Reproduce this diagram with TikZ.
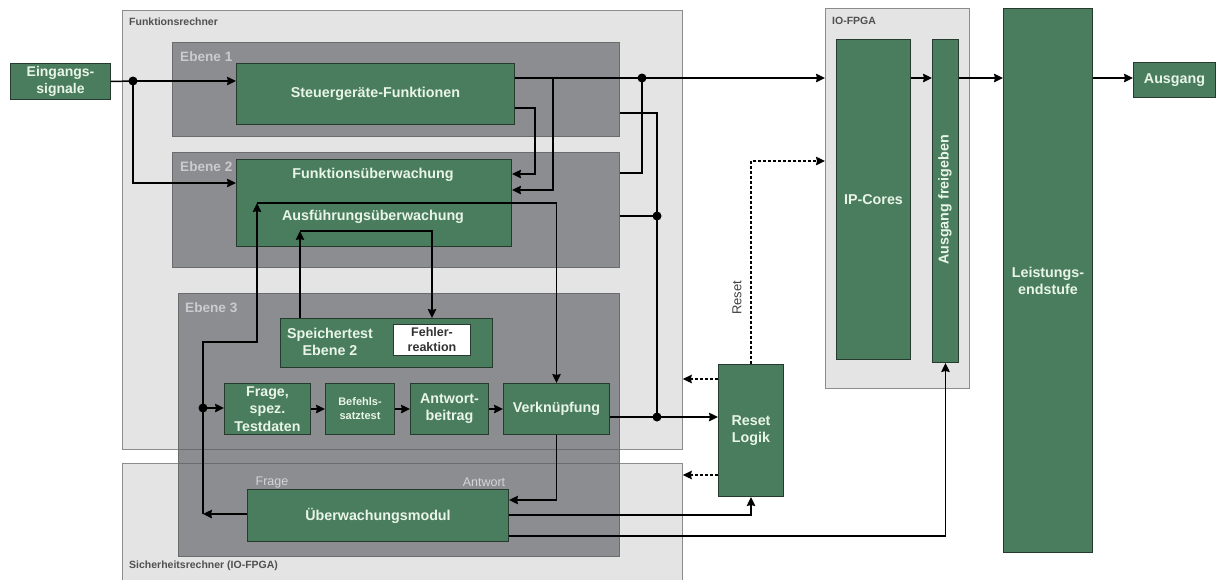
\documentclass[tikz,border=0pt]{standalone}
\usepackage{fontspec}
\setmainfont{Liberation Sans}
\usetikzlibrary{arrows.meta,calc}
\definecolor{bgl}{HTML}{E4E4E4}
\definecolor{bgb}{HTML}{8C8C8C}
\definecolor{eb}{HTML}{8B8D90}
\definecolor{ebb}{HTML}{6A6C6E}
\definecolor{ebt}{HTML}{C9CBCD}
\definecolor{gr}{HTML}{4A7D5E}
\definecolor{grb}{HTML}{263A2E}
\definecolor{grt}{HTML}{E8F5E8}
\definecolor{lbl}{HTML}{505050}
\begin{document}
\begin{tikzpicture}[x=1pt,y=-1pt,
  outerbox/.style={fill=bgl,draw=bgb,line width=0.8pt,anchor=north west,inner sep=0pt},
  ebenebox/.style={fill=eb,draw=ebb,line width=0.8pt,anchor=north west,inner sep=0pt},
  gbox/.style={fill=gr,draw=grb,line width=1pt,text=grt,font=\bfseries\fontsize{14.3}{17}\selectfont,align=center,inner sep=0pt,anchor=north west},
  gtext/.style={text=grt,font=\bfseries\fontsize{14.3}{17}\selectfont,align=center,inner sep=0pt},
  outlbl/.style={anchor=west,text=lbl,font=\bfseries\fontsize{10.5}{12}\selectfont,inner sep=0pt},
  eblbl/.style={anchor=west,text=ebt,font=\bfseries\fontsize{13.6}{15}\selectfont,inner sep=0pt},
  smalllbl/.style={text=ebt!80!white,font=\fontsize{12.5}{14}\selectfont,inner sep=0pt},
  conn/.style={line width=1.5pt,-{Stealth[length=9pt,width=8.5pt,inset=1pt]}},
  plainline/.style={line width=1.5pt},
  resetline/.style={line width=1.5pt,dash pattern=on 3pt off 2pt},
  dconn/.style={resetline,-{Stealth[length=9pt,width=8.5pt,inset=1pt]}},
  jdot/.style={circle,fill=black,inner sep=0pt,minimum size=9pt}
]
\useasboundingbox (0,0) rectangle (1216,579);
% outer boxes
\node[outerbox,minimum width=560pt,minimum height=439pt] (fr) at (122,10) {};
\node[outerbox,minimum width=560pt,minimum height=125pt] (sr) at (122,463) {};
\node[outerbox,minimum width=144pt,minimum height=380pt] (io) at (825,8) {};
\node[outlbl] (frl) at (129,22) {Funktionsrechner};
\node[outlbl] (srl) at (129,566) {Sicherheitsrechner (IO-FPGA)};
\node[outlbl] (iol) at (832,21) {IO-FPGA};
% Ebenen
\node[ebenebox,minimum width=447pt,minimum height=94pt] (e1) at (172,42) {};
\node[ebenebox,minimum width=447pt,minimum height=115pt] (e2) at (172,152) {};
\node[ebenebox,minimum width=441pt,minimum height=263pt] (e3) at (178,293) {};
\draw[ebb,line width=0.8pt] (e3.west |- fr.south) -- (e3.east |- fr.south);
\draw[ebb,line width=0.8pt] (e3.west |- sr.north) -- (e3.east |- sr.north);
\node[eblbl] (e1l) at (180,57) {Ebene 1};
\node[eblbl] (e2l) at (180,167) {Ebene 2};
\node[eblbl] (e3l) at (185,308) {Ebene 3};
% green boxes
\node[gbox,minimum width=100pt,minimum height=36pt,font=\bfseries\fontsize{14}{17}\selectfont] (ein) at (10,63) {Eingangs-\\signale};
\node[gbox,minimum width=278pt,minimum height=61pt] (steu) at (236,63) {Steuergeräte-Funktionen};
\node[gbox,minimum width=275pt,minimum height=87pt] (fu) at (236,159) {};
\node[gtext] (fut) at (373,175) {Funktionsüberwachung};
\node[gtext] (aut) at (373,217) {Ausführungsüberwachung};
\node[gbox,minimum width=212pt,minimum height=49pt] (spt) at (280,318) {};
\node[gtext] (sptt) at (330,342) {Speichertest\\Ebene 2};
\node[gbox,fill=white,text=black!80,minimum width=77pt,minimum height=31pt,font=\bfseries\fontsize{12.5}{15}\selectfont] (fehl) at (393,324) {Fehler-\\reaktion};
\node[gbox,minimum width=86pt,minimum height=51pt,font=\bfseries\fontsize{14.2}{17.5}\selectfont] (frage) at (224,383) {Frage,\\spez.\\Testdaten};
\node[gbox,minimum width=69pt,minimum height=51pt,font=\bfseries\fontsize{11}{14}\selectfont] (bef) at (325,383) {Befehls-\\satztest};
\node[gbox,minimum width=78pt,minimum height=51pt] (ant) at (410,383) {Antwort-\\beitrag};
\node[gbox,minimum width=106pt,minimum height=51pt] (verk) at (503,383) {Verknüpfung};
\node[gbox,minimum width=65pt,minimum height=132pt] (rl) at (718,364) {Reset\\Logik};
\node[gbox,minimum width=261pt,minimum height=52pt] (um) at (247,489) {Überwachungsmodul};
\node[gbox,minimum width=74pt,minimum height=320pt] (ipc) at (836,39) {IP-Cores};
\node[gbox,minimum width=26pt,minimum height=323pt] (afg) at (932,39) {};
\node[gtext,rotate=90] (afgt) at (945,200) {Ausgang freigeben};
\node[gbox,minimum width=89pt,minimum height=544pt] (lei) at (1003,8) {Leistungs-\\endstufe};
\node[gbox,minimum width=82pt,minimum height=35pt] (aus) at (1133,62) {Ausgang};
\node[smalllbl] (fragel) at (272,482) {Frage};
\node[smalllbl] (antl) at (484,482) {Antwort};
% junctions
\coordinate (j1) at (133,81);
\coordinate (j2) at (642,78);
\coordinate (j3) at (657,216);
\coordinate (j4) at (657,417);
\coordinate (j5) at (203,408);
\coordinate (c1) at (203,514);
\coordinate (c2) at (257,203);
\coordinate (c3) at (300,231);
% connectors
\draw[plainline] (ein.east) -- (j1);
\draw[conn] (j1) -- (steu.west |- j1);
\draw[conn] (j1) |- (fu.west |- 0,183);
\draw[conn] (steu.east |- j2) -- (io.west |- j2);
\draw[conn] (553,78) -- (553,190) -- (fu.east |- 0,190);
\draw[conn] (steu.east |- 0,108) -| (535,174) -- (fu.east |- 0,174);
\draw[plainline] (j2) |- (e2.east |- 0,173);
\draw[plainline] (e1.east |- 0,113) -| (j4);
\draw[plainline] (e2.east |- j3) -- (j3);
\draw[conn] (verk.east |- j4) -- (rl.west |- j4);
\draw[dconn] (rl.north) |- (io.west |- 0,161);
\node[rotate=90,font=\fontsize{13}{14}\selectfont,text=black!75,inner sep=0pt] (resetl) at (737,298) {Reset};
\draw[dconn] (rl.west |- 0,379) -- (fr.east |- 0,379);
\draw[dconn] (rl.west |- 0,475) -- (sr.east |- 0,475);
\draw[conn] (ipc.east |- j2) -- (afg.west |- j2);
\draw[conn] (afg.east |- j2) -- (lei.west |- j2);
\draw[conn] (lei.east |- j2) -- (aus.west |- j2);
\draw[conn] (um.east |- 0,515) -| (rl.south);
\draw[conn] (um.east |- 0,536) -| (afg.south);
\draw[conn] (verk.south) |- (um.east |- 0,500);
\draw[conn] (um.west |- c1) -- (c1);
\draw[conn] (c1) -- (203,342) -| (c2);
\draw[conn] (c2) -| (verk.north);
\draw[conn] ($(spt.north west)+(20,0)$) -- (c3);
\draw[conn] (c3) -| (fehl.north |- spt.north);
\draw[conn] (j5) -- (frage.west |- j5);
\draw[conn] (frage.east) -- (bef.west);
\draw[conn] (bef.east) -- (ant.west);
\draw[conn] (ant.east) -- (verk.west);
\node[jdot] (d1) at (j1) {};
\node[jdot] (d2) at (j2) {};
\node[jdot] (d3) at (j3) {};
\node[jdot] (d4) at (j4) {};
\node[jdot] (d5) at (j5) {};
\end{tikzpicture}
\end{document}
